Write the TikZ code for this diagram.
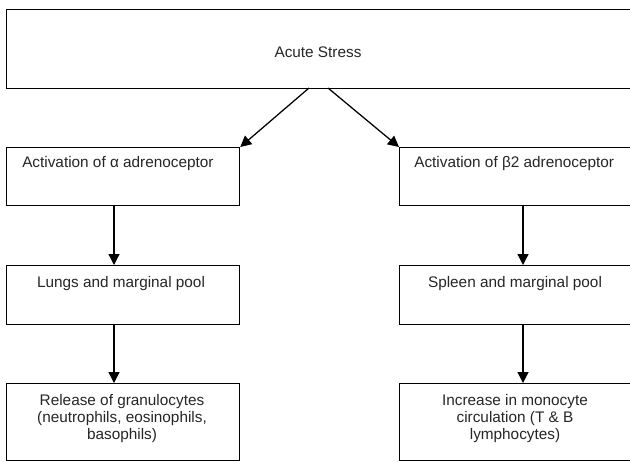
\documentclass[tikz,border=0pt]{standalone}
\usepackage{fontspec}
\setmainfont{Liberation Sans}
\usetikzlibrary{arrows.meta}
\tikzset{
  box/.style={draw=black, line width=0.95pt, rectangle, inner sep=0pt, anchor=north west},
  lbl/.style={font=\fontsize{11.5pt}{13.1pt}\selectfont, inner sep=0pt, align=center, text=black!85},
  arr/.style={draw=black, line width=0.95pt, -{Triangle[length=8.25pt,width=8.25pt]}}
}
\begin{document}
\begin{tikzpicture}[x=0.75pt,y=-0.75pt]
  \useasboundingbox (0,0) rectangle (630,461);
  \clip (0,0) rectangle (630,461);
  \fill[white] (0,0) rectangle (630,461);
  % boxes
  \node[box, minimum width=469.5pt, minimum height=59.25pt] (top) at (6,9) {};
  \node[box, minimum width=174.75pt, minimum height=43.5pt] (a1) at (6,147) {};
  \node[box, minimum width=174.75pt, minimum height=44.25pt] (l1) at (6,265) {};
  \node[box, minimum width=174.75pt, minimum height=57.75pt] (r1) at (6,383) {};
  \node[box, minimum width=174.75pt, minimum height=43.5pt] (a2) at (399,147) {};
  \node[box, minimum width=174.75pt, minimum height=44.25pt] (l2) at (399,265) {};
  \node[box, minimum width=174.75pt, minimum height=57.75pt] (r2) at (399,383) {};
  % texts
  \node[lbl] (topt) at (318,52) {Acute Stress};
  \node[lbl, anchor=west] (a1t) at (22,164) {Activation of α adrenoceptor};
  \node[lbl, anchor=west] (a2t) at (414,164) {Activation of β2 adrenoceptor};
  \node[lbl] (l1t) at (121,284) {Lungs and marginal pool};
  \node[lbl] (l2t) at (515,284) {Spleen and marginal pool};
  \node[lbl] (r1t) at (122,418.5) {Release of granulocytes\\(neutrophils, eosinophils,\\basophils)};
  \node[lbl] (r2t) at (515,418.5) {Increase in monocyte\\circulation (T \& B\\lymphocytes)};
  % connector anchors
  \coordinate (s1) at (309,88);
  \coordinate (s2) at (328,88);
  \coordinate (xl) at (114,0);
  \coordinate (xr) at (523,0);
  % connectors
  \draw[arr] (s1) -- (a1.north east);
  \draw[arr] (s2) -- (a2.north west);
  \draw[arr] (a1.south -| xl) -- (l1.north -| xl);
  \draw[arr] (l1.south -| xl) -- (r1.north -| xl);
  \draw[arr] (a2.south -| xr) -- (l2.north -| xr);
  \draw[arr] (l2.south -| xr) -- (r2.north -| xr);
\end{tikzpicture}
\end{document}
